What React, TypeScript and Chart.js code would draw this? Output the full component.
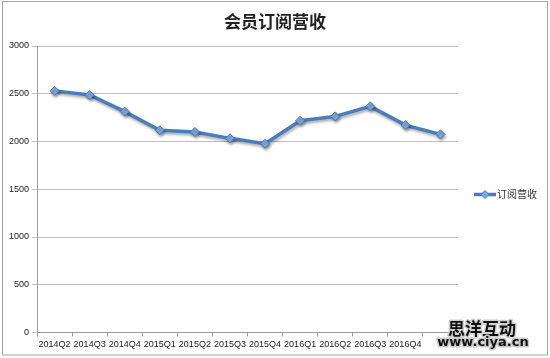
import React, { useEffect, useRef } from "react";
import { Chart, registerables } from "chart.js";

Chart.register(...registerables);

const title = "会员订阅营收";
const seriesName = "订阅营收";
const categories = [
  "2014Q2", "2014Q3", "2014Q4", "2015Q1", "2015Q2", "2015Q3",
  "2015Q4", "2016Q1", "2016Q2", "2016Q3", "2016Q4", "",
];
const revenue = [2530, 2487, 2313, 2118, 2100, 2033, 1977, 2218, 2263, 2368, 2172, 2075];
const yTicks = [0, 500, 1000, 1500, 2000, 2500, 3000];
const watermarkCn = "思洋互动";
const watermarkUrl = "www.ciya.cn";

const LINE = "#4A7EBB";
const MARK = "#7FA8DB";

const decorPlugin = {
  id: "decor",
  beforeDatasetsDraw(chart: any) {
    const ctx = chart.ctx;
    ctx.save();
    ctx.shadowColor = "rgba(0,0,0,0.35)";
    ctx.shadowBlur = 3;
    ctx.shadowOffsetX = 1;
    ctx.shadowOffsetY = 2;
  },
  afterDatasetsDraw(chart: any) {
    chart.ctx.restore();
  },
  afterDraw(chart: any) {
    const ctx = chart.ctx;
    ctx.save();
    // frame
    ctx.strokeStyle = "#A6A6A6";
    ctx.lineWidth = 1;
    ctx.strokeRect(2.5, 1.5, 545, 353.5);
    // title
    ctx.fillStyle = "#222";
    ctx.font = "bold 17px 'Noto Sans CJK SC'";
    ctx.textAlign = "center";
    ctx.textBaseline = "middle";
    ctx.fillText(title, 275, 22);
    // legend
    const ly = 194.5;
    ctx.strokeStyle = LINE;
    ctx.lineWidth = 3.5;
    ctx.beginPath();
    ctx.moveTo(474, ly);
    ctx.lineTo(496, ly);
    ctx.stroke();
    ctx.fillStyle = MARK;
    ctx.strokeStyle = LINE;
    ctx.lineWidth = 1;
    ctx.beginPath();
    ctx.moveTo(485, ly - 4);
    ctx.lineTo(489, ly);
    ctx.lineTo(485, ly + 4);
    ctx.lineTo(481, ly);
    ctx.closePath();
    ctx.fill();
    ctx.stroke();
    ctx.fillStyle = "#333";
    ctx.font = "10px 'Noto Sans CJK SC'";
    ctx.textAlign = "left";
    ctx.fillText(seriesName, 497, ly);
    // watermark
    ctx.textAlign = "center";
    ctx.lineJoin = "round";
    ctx.font = "bold 17px 'Noto Sans CJK SC'";
    ctx.strokeStyle = "#D0D0D0";
    ctx.lineWidth = 3;
    ctx.strokeText(watermarkCn, 482, 329);
    ctx.fillStyle = "#111";
    ctx.fillText(watermarkCn, 482, 329);
    ctx.font = "bold 13px 'DejaVu Sans'";
    ctx.strokeStyle = "#C8C8C8";
    ctx.lineWidth = 3;
    ctx.strokeText(watermarkUrl, 483, 343);
    ctx.fillStyle = "#111";
    ctx.fillText(watermarkUrl, 483, 343);
    ctx.restore();
  },
};

export default function App() {
  const ref = useRef<HTMLCanvasElement | null>(null);
  useEffect(() => {
    if (!ref.current) return;
    const chart = new Chart(ref.current, {
      type: "line",
      data: {
        labels: categories,
        datasets: [
          {
            label: seriesName,
            data: revenue,
            borderColor: LINE,
            borderWidth: 3.5,
            backgroundColor: MARK,
            pointStyle: "rectRot",
            pointRadius: 4.5,
            pointBorderColor: LINE,
            pointBorderWidth: 1,
            pointBackgroundColor: MARK,
            tension: 0,
          },
        ],
      },
      options: {
        responsive: false,
        animation: false,
        layout: { padding: { top: 46, right: 92, left: 0, bottom: 0 } },
        plugins: {
          legend: { display: false },
          title: { display: false },
          tooltip: { enabled: false },
        },
        scales: {
          x: {
            type: "category",
            offset: true,
            afterFit: (s: any) => { s.height = 25.5; },
            grid: {
              offset: true,
              drawOnChartArea: false,
              drawTicks: true,
              tickLength: 4,
              color: "#9A9A9A",
            },
            border: { color: "#9A9A9A", width: 1 },
            ticks: {
              autoSkip: false,
              maxRotation: 0,
              minRotation: 0,
              padding: 3,
              color: "#222",
              font: { family: "'Liberation Sans'", size: 9 },
            },
          },
          y: {
            min: 0,
            max: 3000,
            afterFit: (s: any) => { s.width = 37; },
            afterBuildTicks: (s: any) => { s.ticks = yTicks.map((v) => ({ value: v })); },
            grid: { color: "#BFBFBF", tickLength: 5, lineWidth: 1 },
            border: { color: "#9A9A9A", width: 1 },
            ticks: {
              padding: 3,
              color: "#222",
              font: { family: "'Liberation Sans'", size: 9 },
              callback: (v: any) => String(v),
            },
          },
        },
      },
      plugins: [decorPlugin],
    });
    return () => chart.destroy();
  }, []);
  return (
    <div style={{ position: "fixed", left: 0, top: 0, width: 550, height: 358, background: "#fff" }}>
      <canvas ref={ref} width={550} height={358} style={{ display: "block" }} />
    </div>
  );
}
